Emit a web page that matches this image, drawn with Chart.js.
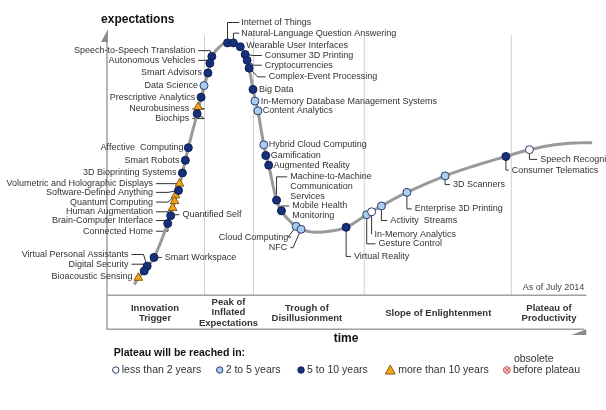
<!DOCTYPE html>
<html><head><meta charset="utf-8">
<script src="https://cdn.jsdelivr.net/npm/chart.js@4.4.1/dist/chart.umd.min.js"></script>
<style>html,body{margin:0;padding:0;background:#fff}#w{width:606px;height:410px}</style>
</head><body><div id="w"><canvas id="c"></canvas></div>
<script>
// Hype curve (x, y in picture units)
const curveX = [131,135,141,151,165,170,176,180,186,195,199,206,210,218,226,232,239,244,248,252,257,263,268,276,281,290,301,315,330,347,368,383,409,448,480,510,534,560,585,598];
const curveY = [287,280,273,259,224,208,190,172,146,111,94,69,52,42,37,37,42,50,64,86,108,143,164,200,211,222,230,233,232,228,215,206,192,175,164,155,148,143,141,141];
// Technologies: name, x, y, category (L <2y, B 2-5y, D 5-10y, T >10y)
const techNames = ["Speech-to-Speech Translation","Autonomous Vehicles","Smart Advisors","Data Science","Prescriptive Analytics","Neurobusiness","Biochips","Affective  Computing","Smart Robots","3D Bioprinting Systems","Volumetric and Holographic Displays","Software-Defined Anything","Quantum Computing","Human Augmentation","Brain-Computer Interface","Quantified Self","Connected Home","Smart Workspace","Virtual Personal Assistants","Digital Security","Bioacoustic Sensing","Internet of Things","Natural-Language Question Answering","Wearable User Interfaces","Consumer 3D Printing","Cryptocurrencies","Complex-Event Processing","Big Data","In-Memory Database Management Systems","Content Analytics","Hybrid Cloud Computing","Gamification","Augmented Reality","Machine-to-Machine|Communication|Services","Mobile Health|Monitoring","Cloud Computing","NFC","Virtual Reality","Gesture Control","In-Memory Analytics","Activity  Streams","Enterprise 3D Printing","3D Scanners","Consumer Telematics","Speech Recognition"];
const techX = [210,208,206,202,199,196,195,186,183,180,177,176,173,172,170,168,165,151,144,141,135,226,232,239,244,246,248,252,254,257,263,265,268,276,281,296,301,347,368,373,383,409,448,510,534];
const techY = [52,59,69,82,94,104,111,146,159,172,183,190,195,201,208,216,224,259,268,273,280,38,38,42,50,56,64,86,98,108,143,154,164,200,211,227,230,228,215,212,206,192,175,155,148];
const techCat = ["D","D","D","B","D","T","D","D","D","D","T","D","T","T","T","D","D","D","D","D","T","D","D","D","D","D","D","D","B","B","B","D","D","D","D","B","B","D","B","L","B","B","B","D","L"];
const phaseNames = ["Innovation|Trigger","Peak of|Inflated|Expectations","Trough of|Disillusionment","Slope of Enlightenment","Plateau of|Productivity"];
const legendNames = ["less than 2 years","2 to 5 years","5 to 10 years","more than 10 years","obsolete|before plateau"];

// layout: label anchor [x, y, align, leader?]
const labelPos = [[193,46,'r',1],[193,56,'r',1],[200,69,'r',0],[196,82,'r',0],[193,94,'r',0],[187,106,'r',1],[187,116,'r',1],[181,146,'r',0],[177,159,'r',0],[174,172,'r',0],[150,183,'r',1],[150,192,'r',1],[150,202,'r',1],[150,212,'r',1],[150,221,'r',1],[180,215,'l',1],[150,232,'r',1],[162,259,'l',1],[125,256,'r',1],[125,266,'r',1],[129,279,'r',0],
[240,17,'l',2],[240,28,'l',2],[245,41,'l',0],[264,51,'l',1],[264,61,'l',1],[268,73,'l',1],[258,86,'l',0],[260,98,'l',0],[262,108,'l',0],[268,143,'l',0],[270,154,'l',0],[273,164,'l',0],[290,176,'l',3],[292,206,'l',1],[288,238,'r',3],[287,249,'r',3],[355,258,'l',3],[380,245,'l',3],[376,235,'l',3],[392,221,'l',3],[417,209,'l',3],[456,184,'l',3],[516,169,'l',3],[545,158,'l',3]];
const phaseCenters=[[152,311],[227,305],[307,311],[441,317],[554,311]];
const legendX=[112,218,301,392,511];

const fill={L:'#ffffff',B:'#a9cdee',D:'#17307a',T:'#f2a51c'};
const stroke={L:'#2a3c6e',B:'#2a3c6e',D:'#0f1f55',T:'#8a5a10'};
function catData(c){return techX.map((x,i)=>({x:x,y:techY[i],c:techCat[i]})).filter(p=>p.c===c);}
const datasets=[{type:'line',data:curveX.map((x,i)=>({x:x,y:curveY[i]})),borderColor:'#9a9a9a',borderWidth:3,pointRadius:0,tension:0.4,fill:false,order:2}];
['L','B','D','T'].forEach(c=>datasets.push({type:'scatter',data:catData(c),pointStyle:c==='T'?'triangle':'circle',pointRadius:c==='T'?5:4,backgroundColor:fill[c],borderColor:stroke[c],borderWidth:1,order:1}));

const F='"Liberation Sans", Arial, sans-serif';
const deco={id:'deco',
beforeDatasetsDraw(ch){const ctx=ch.ctx,sx=ch.scales.x,sy=ch.scales.y;const X=v=>sx.getPixelForValue(v),Y=v=>sy.getPixelForValue(v);
ctx.save();ctx.strokeStyle='#d0d0d0';ctx.lineWidth=1;
[202,252,365,515].forEach(x=>{ctx.beginPath();ctx.moveTo(X(x)+.5,Y(30));ctx.lineTo(X(x)+.5,Y(298));ctx.stroke();});
ctx.strokeStyle='#a0a0a0';ctx.lineWidth=1.5;
ctx.beginPath();ctx.moveTo(X(103),Y(35));ctx.lineTo(X(103),Y(333));ctx.lineTo(X(590),Y(333));ctx.stroke();
ctx.beginPath();ctx.moveTo(X(103),Y(298));ctx.lineTo(X(592),Y(298));ctx.stroke();
ctx.fillStyle='#8a8a8a';ctx.beginPath();ctx.moveTo(X(97),Y(37));ctx.lineTo(X(104),Y(24));ctx.lineTo(X(104),Y(37));ctx.fill();
ctx.beginPath();ctx.moveTo(X(577),Y(339));ctx.lineTo(X(592),Y(333));ctx.lineTo(X(592),Y(339));ctx.fill();
ctx.strokeStyle='#333';ctx.lineWidth=1;
labelPos.forEach((p,i)=>{if(!p[3])return;const px=X(techX[i]),py=Y(techY[i]);const lx=X(p[0]),ly=Y(p[1]);ctx.beginPath();
 if(p[3]===1){const ex=p[2]==='r'?lx+3:lx-3;ctx.moveTo(ex,ly);ctx.lineTo(ex+(p[2]==='r'?12:-8),ly);ctx.lineTo(px,py);}
 else if(p[3]===2){ctx.moveTo(px,py);ctx.lineTo(px,ly);ctx.lineTo(lx-2,ly);}
 else {const ex=p[2]==='r'?lx+3:lx-3;ctx.moveTo(px,py);ctx.lineTo(px+(p[2]==='r'?-8:0),ly);ctx.lineTo(ex,ly);} ctx.stroke();});
ctx.restore();},
afterDatasetsDraw(ch){const ctx=ch.ctx,sx=ch.scales.x,sy=ch.scales.y;const X=v=>sx.getPixelForValue(v),Y=v=>sy.getPixelForValue(v);
ctx.save();ctx.fillStyle='#333';ctx.font='9px '+F;ctx.textBaseline='middle';
labelPos.forEach((p,i)=>{ctx.textAlign=p[2]==='r'?'right':'left';techNames[i].split('|').forEach((t,k)=>ctx.fillText(t,X(p[0]),Y(p[1]+k*10)));});
ctx.fillStyle='#111';ctx.font='bold 12px '+F;ctx.textAlign='left';ctx.fillText('expectations',X(97),Y(14));
ctx.textAlign='center';ctx.fillText('time',X(347),Y(343));
ctx.font='bold 9.5px '+F;ctx.fillStyle='#333';
phaseNames.forEach((n,i)=>n.split('|').forEach((t,k)=>ctx.fillText(t,X(phaseCenters[i][0]),Y(phaseCenters[i][1]+k*11))));
ctx.font='9px '+F;ctx.textAlign='right';ctx.fillStyle='#444';ctx.fillText('As of July 2014',X(590),Y(290));
ctx.font='bold 10.5px '+F;ctx.textAlign='left';ctx.fillStyle='#111';ctx.fillText('Plateau will be reached in:',X(110),Y(358));
ctx.font='10.5px '+F;ctx.fillStyle='#333';
legendNames.forEach((n,i)=>{const x=X(legendX[i]),y=Y(375);
 ctx.lineWidth=1;ctx.beginPath();
 if(i===3){ctx.fillStyle='#f2a51c';ctx.strokeStyle='#8a5a10';ctx.moveTo(x-5,y+4);ctx.lineTo(x,y-5);ctx.lineTo(x+5,y+4);ctx.closePath();ctx.fill();ctx.stroke();}
 else if(i===4){ctx.fillStyle='#f4c6c6';ctx.strokeStyle='#d06060';ctx.arc(x,y,3.5,0,7);ctx.fill();ctx.stroke();ctx.beginPath();ctx.moveTo(x-2,y-2);ctx.lineTo(x+2,y+2);ctx.moveTo(x+2,y-2);ctx.lineTo(x-2,y+2);ctx.stroke();}
 else {ctx.fillStyle=[fill.L,fill.B,fill.D][i];ctx.strokeStyle=[stroke.L,stroke.B,stroke.D][i];ctx.arc(x,y,3.2,0,7);ctx.fill();ctx.stroke();}
 ctx.fillStyle='#333';const parts=n.split('|');const tx=x+(i===3?8:6);
 if(parts.length>1){ctx.fillText(parts[0],tx+1,y-11);ctx.fillText(parts[1],tx,y);} else ctx.fillText(n,tx,y);});
ctx.restore();}};

new Chart(document.getElementById('c'),{data:{datasets},plugins:[deco],
options:{responsive:true,maintainAspectRatio:false,animation:false,layout:{padding:0},
plugins:{legend:{display:false},tooltip:{enabled:false}},
scales:{x:{type:'linear',min:0,max:606,display:false},y:{type:'linear',min:0,max:410,reverse:true,display:false}}}});
</script></body></html>
